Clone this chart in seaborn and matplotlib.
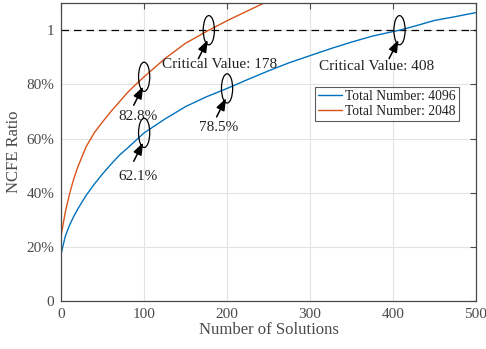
import numpy as np
import pandas as pd
import seaborn as sns
import matplotlib
matplotlib.use("Agg")
import matplotlib.pyplot as plt
from matplotlib.patches import Ellipse

# ---- data ----
x_4096 = [0, 5, 10, 15, 20, 30, 40, 50, 60, 70, 80, 90, 100, 125, 150, 175, 200,
          225, 250, 275, 300, 325, 350, 375, 400, 408, 425, 450, 475, 500]
y_4096 = [0.177, 0.240, 0.280, 0.312, 0.340, 0.390, 0.432, 0.470, 0.505, 0.538,
          0.565, 0.593, 0.621, 0.672, 0.718, 0.754, 0.785, 0.818, 0.850, 0.880,
          0.906, 0.932, 0.956, 0.978, 0.995, 1.000, 1.014, 1.036, 1.050, 1.065]
x_2048 = [0, 5, 10, 15, 20, 30, 40, 50, 60, 70, 80, 90, 100, 125, 150, 178,
          200, 225, 250]
y_2048 = [0.244, 0.330, 0.395, 0.450, 0.495, 0.570, 0.622, 0.662, 0.700, 0.735,
          0.770, 0.800, 0.828, 0.895, 0.952, 1.000, 1.035, 1.072, 1.108]
series_names = ["Total Number: 4096", "Total Number: 2048"]
x_ticks = [0, 100, 200, 300, 400, 500]
y_ticks = [0, 0.2, 0.4, 0.6, 0.8, 1.0]
y_tick_labels = ["0", "20%", "40%", "60%", "80%", "1"]
marks = [(100, 0.828, "82.8%"), (100, 0.621, "62.1%"), (200, 0.785, "78.5%"),
         (178, 1.0, "Critical Value: 178"), (408, 1.0, "Critical Value: 408")]

df = pd.DataFrame({
    "x": x_4096 + x_2048,
    "y": y_4096 + y_2048,
    "series": [series_names[0]] * len(x_4096) + [series_names[1]] * len(x_2048),
})

sns.set_theme(style="white")
plt.rcParams["font.family"] = ["Liberation Serif", "DejaVu Serif"]

gray = "#4a4a4a"
fig = plt.figure(figsize=(4.86, 3.49), dpi=100)
ax = fig.add_axes([0.126, 0.1375, 0.853, 0.8535])

sns.lineplot(data=df, x="x", y="y", hue="series", hue_order=series_names,
             palette=["#0072BD", "#D95319"], linewidth=1.0, ax=ax,
             estimator=None, sort=True)

ax.axhline(1.0, color="black", linestyle=(0, (6, 4)), linewidth=0.9, zorder=1)

ax.set_xlim(0, 500)
ax.set_ylim(0, 1.1)
ax.set_xticks(x_ticks)
ax.set_yticks(y_ticks)
ax.set_yticklabels(y_tick_labels)
ax.grid(True, color="#e3e3e3", linewidth=0.8)
ax.set_axisbelow(True)
ax.tick_params(direction="in", length=4, width=0.8, colors=gray,
               labelsize=11, top=True, right=True, labeltop=False,
               labelright=False, pad=5)
for s in ax.spines.values():
    s.set_color(gray)
    s.set_linewidth(0.9)
ax.set_xlabel("Number of Solutions", fontsize=12, color=gray, labelpad=1)
ax.set_ylabel("NCFE Ratio", fontsize=12, color=gray, labelpad=3)

# ellipses + arrows + labels
text_off = {
    "82.8%": (-8, -0.145),
    "62.1%": (-8, -0.16),
    "78.5%": (-10, -0.145),
    "Critical Value: 178": (13, -0.125),
    "Critical Value: 408": (-28, -0.135),
}
for mx, my, lab in marks:
    ax.add_patch(Ellipse((mx, my), width=13.5, height=0.108, fill=False,
                         edgecolor="black", linewidth=0.9, zorder=5))
    ax.annotate("", xy=(mx - 1.2, my - 0.036), xytext=(mx - 12.6, my - 0.105),
                arrowprops=dict(arrowstyle="-|>,head_length=0.6,head_width=0.22",
                                color="black", lw=1.1, shrinkA=0, shrinkB=0),
                zorder=6)
    tx, ty = text_off[lab]
    ax.text(mx + tx, my + ty, lab, ha="center", va="center", fontsize=11,
            color="#222222", zorder=6)

leg = ax.legend(loc="upper left", bbox_to_anchor=(0.612, 0.72), fontsize=9.8,
                frameon=True, fancybox=False, borderpad=0.25, handlelength=1.75,
                handletextpad=0.2, labelspacing=0.12, borderaxespad=0)
leg.get_frame().set_edgecolor("#333333")
leg.get_frame().set_linewidth(0.8)
for t in leg.get_texts():
    t.set_color("#222222")

fig.savefig("out.png", dpi=100)
